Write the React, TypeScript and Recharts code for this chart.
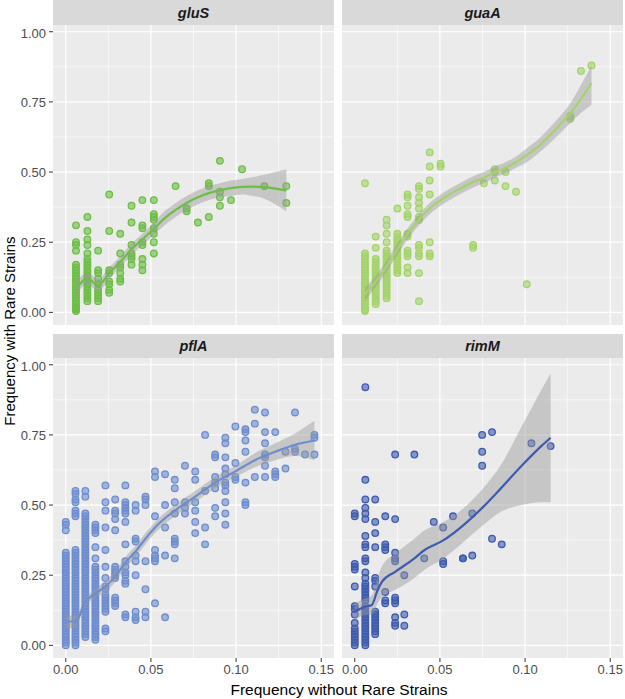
import React from "react";
import { ComposedChart, Scatter, Line, Area, XAxis, YAxis, CartesianGrid } from "recharts";

const xTicks = [0, 0.05, 0.1, 0.15];
const yTicks = [0, 0.25, 0.5, 0.75, 1];
const xMinor = [0.025, 0.075, 0.125];
const yMinor = [0.125, 0.375, 0.625, 0.875];

// gluS
const glusX = [0.006, 0.0127, 0.019, 0.0255, 0.032, 0.0386, 0.045, 0.0517, 0.0645, 0.071, 0.0776, 0.084, 0.0905, 0.097, 0.1035, 0.1166, 0.1295];
const glusY = [
  [0.31, 0.25, 0.24, 0.22, 0.17, 0.16, 0.15, 0.14, 0.13, 0.12, 0.11, 0.1, 0.09, 0.08, 0.07, 0.06, 0.05, 0.04, 0.03, 0.02, 0.015, 0.01, 0.005],
  [0.34, 0.29, 0.26, 0.24, 0.21, 0.19, 0.18, 0.17, 0.16, 0.15, 0.14, 0.13, 0.12, 0.11, 0.1, 0.09, 0.08, 0.07, 0.06, 0.05, 0.04],
  [0.22, 0.15, 0.14, 0.12, 0.1, 0.08, 0.07, 0.06, 0.05, 0.04],
  [0.42, 0.29, 0.15, 0.14, 0.11, 0.1, 0.08, 0.07],
  [0.28, 0.21, 0.17, 0.16, 0.14, 0.12, 0.11],
  [0.38, 0.32, 0.24, 0.21, 0.2, 0.19, 0.17],
  [0.4, 0.31, 0.3, 0.25, 0.24, 0.19, 0.17, 0.15],
  [0.4, 0.35, 0.34, 0.33, 0.3, 0.28, 0.25, 0.21],
  [0.45],
  [0.37, 0.36],
  [0.32],
  [0.46, 0.45, 0.34],
  [0.54, 0.43, 0.41, 0.38],
  [0.4],
  [0.51],
  [0.45],
  [0.45, 0.39],
];
const glusFitX = [0.006, 0.0127, 0.019, 0.0255, 0.032, 0.0386, 0.045, 0.0517, 0.058, 0.0645, 0.071, 0.0776, 0.084, 0.0905, 0.097, 0.1035, 0.11, 0.1166, 0.123, 0.1295];
const glusFit = [0.083, 0.12, 0.097, 0.14, 0.18, 0.225, 0.26, 0.298, 0.335, 0.365, 0.39, 0.41, 0.425, 0.435, 0.443, 0.447, 0.448, 0.446, 0.441, 0.434];
const glusLo = [0.06, 0.1, 0.075, 0.12, 0.16, 0.205, 0.24, 0.275, 0.31, 0.34, 0.365, 0.385, 0.4, 0.41, 0.415, 0.42, 0.415, 0.405, 0.385, 0.36];
const glusHi = [0.11, 0.14, 0.12, 0.16, 0.2, 0.245, 0.28, 0.32, 0.36, 0.39, 0.415, 0.435, 0.45, 0.46, 0.47, 0.475, 0.482, 0.49, 0.5, 0.51];

// guaA
const guaaX = [0.006, 0.0123, 0.0187, 0.025, 0.031, 0.0377, 0.044, 0.0504, 0.0695, 0.0758, 0.0822, 0.0885, 0.0947, 0.101, 0.1266, 0.1328, 0.139];
const guaaY = [
  [0.46, 0.21, 0.2, 0.19, 0.18, 0.17, 0.16, 0.15, 0.14, 0.13, 0.12, 0.11, 0.1, 0.09, 0.08, 0.07, 0.06, 0.05, 0.04, 0.03, 0.02, 0.01, 0.005],
  [0.27, 0.23, 0.19, 0.18, 0.17, 0.16, 0.15, 0.14, 0.13, 0.12, 0.11, 0.1, 0.09, 0.08, 0.07, 0.06, 0.05, 0.04, 0.03],
  [0.33, 0.31, 0.28, 0.25, 0.22, 0.21, 0.2, 0.19, 0.18, 0.17, 0.16, 0.15, 0.14, 0.13, 0.12, 0.11, 0.1, 0.09, 0.08, 0.07, 0.06, 0.05],
  [0.37, 0.28, 0.27, 0.26, 0.25, 0.24, 0.23, 0.22, 0.21, 0.2, 0.19, 0.18, 0.17, 0.16, 0.15, 0.14],
  [0.42, 0.41, 0.38, 0.35, 0.34, 0.28, 0.27, 0.22, 0.21, 0.2, 0.16, 0.14],
  [0.45, 0.44, 0.41, 0.39, 0.37, 0.34, 0.33, 0.24, 0.23, 0.21, 0.2, 0.14, 0.04],
  [0.57, 0.52, 0.47, 0.42, 0.25, 0.21, 0.2],
  [0.53, 0.52],
  [0.24, 0.23],
  [0.46],
  [0.51, 0.5, 0.47],
  [0.5, 0.45],
  [0.43],
  [0.1],
  [0.7, 0.69],
  [0.86],
  [0.88],
];
const guaaFitX = [0.006, 0.0123, 0.0187, 0.025, 0.031, 0.0377, 0.044, 0.0504, 0.057, 0.063, 0.0695, 0.0758, 0.0822, 0.0885, 0.0947, 0.101, 0.1075, 0.114, 0.12, 0.1266, 0.1328, 0.139];
const guaaFit = [0.065, 0.11, 0.165, 0.225, 0.28, 0.33, 0.37, 0.4, 0.425, 0.445, 0.465, 0.48, 0.5, 0.515, 0.535, 0.56, 0.59, 0.627, 0.665, 0.71, 0.76, 0.817];
const guaaLo = [0.04, 0.09, 0.145, 0.205, 0.26, 0.31, 0.35, 0.38, 0.405, 0.425, 0.445, 0.46, 0.48, 0.495, 0.515, 0.535, 0.565, 0.6, 0.635, 0.675, 0.71, 0.74];
const guaaHi = [0.09, 0.13, 0.185, 0.245, 0.3, 0.35, 0.39, 0.42, 0.445, 0.465, 0.485, 0.5, 0.52, 0.535, 0.555, 0.585, 0.615, 0.655, 0.695, 0.745, 0.81, 0.88];

// pflA
const pflaX = [0, 0.0057, 0.0115, 0.0174, 0.0233, 0.029, 0.035, 0.041, 0.0468, 0.0524, 0.0583, 0.064, 0.07, 0.076, 0.0818, 0.0877, 0.0937, 0.0996, 0.1055, 0.111, 0.117, 0.123, 0.129, 0.1346, 0.1405, 0.146];
const pflaY = [
  [0.44, 0.43, 0.41, 0.33, 0.32, 0.31, 0.3, 0.29, 0.28, 0.27, 0.26, 0.25, 0.24, 0.23, 0.22, 0.21, 0.2, 0.19, 0.18, 0.17, 0.16, 0.15, 0.14, 0.13, 0.12, 0.11, 0.1, 0.09, 0.08, 0.07, 0.06, 0.05, 0.04, 0.03, 0.02, 0.01, 0.0],
  [0.55, 0.54, 0.52, 0.51, 0.48, 0.47, 0.46, 0.34, 0.33, 0.32, 0.31, 0.3, 0.29, 0.28, 0.27, 0.26, 0.25, 0.24, 0.23, 0.22, 0.21, 0.2, 0.19, 0.18, 0.17, 0.16, 0.15, 0.14, 0.13, 0.12, 0.11, 0.1, 0.09, 0.08, 0.07, 0.06, 0.05, 0.04, 0.03, 0.02, 0.01, 0.0],
  [0.55, 0.53, 0.47, 0.46, 0.45, 0.44, 0.43, 0.42, 0.41, 0.4, 0.39, 0.38, 0.37, 0.36, 0.35, 0.34, 0.33, 0.32, 0.31, 0.3, 0.29, 0.28, 0.27, 0.26, 0.25, 0.24, 0.23, 0.22, 0.21, 0.2, 0.19, 0.18, 0.17, 0.16, 0.15, 0.14, 0.13, 0.12, 0.11, 0.1, 0.09, 0.08, 0.07, 0.06, 0.05, 0.04, 0.03],
  [0.43, 0.42, 0.41, 0.4, 0.35, 0.31, 0.28, 0.27, 0.26, 0.25, 0.24, 0.23, 0.22, 0.21, 0.2, 0.19, 0.18, 0.17, 0.16, 0.15, 0.14, 0.13, 0.12, 0.11, 0.1, 0.09, 0.08, 0.07, 0.06, 0.05, 0.04, 0.03, 0.02],
  [0.57, 0.51, 0.48, 0.42, 0.34, 0.28, 0.24, 0.21, 0.2, 0.18, 0.17, 0.16, 0.15, 0.14, 0.13, 0.12, 0.06, 0.05],
  [0.52, 0.48, 0.47, 0.45, 0.41, 0.28, 0.27, 0.26, 0.25, 0.24, 0.17, 0.16, 0.15, 0.14],
  [0.57, 0.51, 0.5, 0.49, 0.48, 0.47, 0.44, 0.36, 0.3, 0.28, 0.26, 0.25, 0.23, 0.22, 0.11, 0.1],
  [0.5, 0.48, 0.38, 0.37, 0.32, 0.3, 0.25, 0.12, 0.1, 0.09],
  [0.53, 0.52, 0.5, 0.3, 0.2, 0.12, 0.1],
  [0.62, 0.6, 0.46, 0.34, 0.32, 0.31, 0.3, 0.15],
  [0.61, 0.5, 0.42, 0.32, 0.1],
  [0.59, 0.56, 0.51, 0.47, 0.38, 0.37, 0.36, 0.31],
  [0.64, 0.51, 0.49, 0.47],
  [0.62, 0.59, 0.51, 0.48, 0.44, 0.4],
  [0.75, 0.55, 0.42, 0.36],
  [0.68, 0.67, 0.6, 0.58, 0.56, 0.49, 0.46],
  [0.74, 0.72, 0.67, 0.63, 0.61, 0.58, 0.57, 0.55, 0.51, 0.47, 0.43],
  [0.78, 0.65, 0.6, 0.59],
  [0.77, 0.76, 0.73, 0.69, 0.58, 0.51, 0.5],
  [0.84, 0.79, 0.6],
  [0.83, 0.76, 0.72, 0.68, 0.67, 0.64, 0.6],
  [0.76, 0.62, 0.61, 0.6],
  [0.69, 0.63],
  [0.83, 0.7, 0.69],
  [0.68],
  [0.75, 0.74, 0.68],
];
const pflaFitX = [0, 0.0057, 0.0115, 0.0174, 0.0233, 0.029, 0.035, 0.041, 0.0468, 0.0524, 0.064, 0.076, 0.0877, 0.0996, 0.111, 0.123, 0.1346, 0.146];
const pflaFit = [0.085, 0.085, 0.155, 0.185, 0.21, 0.245, 0.295, 0.335, 0.38, 0.42, 0.48, 0.53, 0.58, 0.62, 0.66, 0.69, 0.715, 0.73];
const pflaLo = [0.06, 0.065, 0.14, 0.17, 0.19, 0.225, 0.275, 0.315, 0.36, 0.4, 0.46, 0.51, 0.56, 0.6, 0.635, 0.66, 0.675, 0.66];
const pflaHi = [0.11, 0.105, 0.17, 0.2, 0.23, 0.265, 0.315, 0.355, 0.4, 0.44, 0.5, 0.55, 0.6, 0.64, 0.685, 0.72, 0.755, 0.8];

// rimM
const rimmX = [0, 0.0062, 0.012, 0.0179, 0.0237, 0.0291, 0.035, 0.0408, 0.0464, 0.0519, 0.0577, 0.0635, 0.069, 0.0748, 0.0806, 0.0863, 0.1037, 0.115];
const rimmY = [
  [0.47, 0.46, 0.29, 0.28, 0.27, 0.21, 0.14, 0.13, 0.11, 0.08, 0.06, 0.05, 0.04, 0.03, 0.02, 0.01, 0.0],
  [0.92, 0.59, 0.52, 0.49, 0.47, 0.45, 0.39, 0.36, 0.35, 0.31, 0.3, 0.26, 0.24, 0.22, 0.21, 0.2, 0.19, 0.18, 0.17, 0.16, 0.14, 0.13, 0.12, 0.11, 0.1, 0.09, 0.08, 0.07, 0.06, 0.05, 0.04, 0.03, 0.02, 0.01, 0.0],
  [0.52, 0.44, 0.4, 0.35, 0.24, 0.23, 0.21, 0.12, 0.11, 0.1, 0.09, 0.08, 0.07, 0.06, 0.05, 0.04],
  [0.46, 0.36, 0.35, 0.34, 0.19, 0.16, 0.15],
  [0.68, 0.45, 0.33, 0.31, 0.3, 0.17, 0.16, 0.15, 0.1, 0.08, 0.07],
  [0.25, 0.11, 0.07],
  [0.68],
  [0.31],
  [0.44],
  [0.42, 0.3, 0.29],
  [0.46],
  [0.31, 0.31],
  [0.47, 0.32],
  [0.75, 0.69, 0.64],
  [0.76, 0.38],
  [0.36],
  [0.72],
  [0.71],
];
const rimmFitX = [0, 0.0062, 0.01, 0.013, 0.016, 0.0237, 0.035, 0.0408, 0.0519, 0.0635, 0.0748, 0.0863, 0.098, 0.1095, 0.115];
const rimmFit = [0.12, 0.138, 0.144, 0.19, 0.227, 0.262, 0.31, 0.339, 0.374, 0.427, 0.49, 0.563, 0.64, 0.71, 0.74];
const rimmLo = [0.09, 0.108, 0.109, 0.145, 0.172, 0.197, 0.24, 0.269, 0.309, 0.367, 0.425, 0.478, 0.5, 0.51, 0.51];
const rimmHi = [0.15, 0.168, 0.179, 0.235, 0.282, 0.327, 0.38, 0.409, 0.439, 0.487, 0.555, 0.648, 0.78, 0.91, 0.97];

const FONT = '"Liberation Sans", Arial, Helvetica, sans-serif';
const PLOT_W = 281;
const PLOT_H = 300;
const Y_AXIS_W = 53;
const X_AXIS_H = 28;

const tickStyle = { fill: "#4D4D4D", fontSize: 13, fontFamily: FONT };

type PanelProps = {
  title: string;
  plotLeft: number;
  stripTop: number;
  plotTop: number;
  xs: number[];
  ys: number[][];
  fitX: number[];
  fit: number[];
  lo: number[];
  hi: number[];
  color: string;
  showX: boolean;
  showY: boolean;
};

function Panel(p: PanelProps) {
  const pts = p.xs.flatMap((x, i) => p.ys[i].map((y) => ({ x, y })));
  const fitData = p.fitX.map((x, i) => ({ x, y: p.fit[i] }));
  const bandData = p.fitX.map((x, i) => ({ x, band: [p.lo[i], p.hi[i]] }));
  const w = PLOT_W + (p.showY ? Y_AXIS_W : 0);
  const h = PLOT_H + (p.showX ? X_AXIS_H : 0);
  const dot = (props: any) => (
    <circle cx={props.cx} cy={props.cy} r={3.3} fill={p.color} fillOpacity={0.6} stroke={p.color} strokeWidth={1.3} />
  );
  return (
    <>
      <div
        style={{
          position: "absolute",
          left: p.plotLeft,
          top: p.stripTop,
          width: PLOT_W,
          height: p.plotTop - p.stripTop,
          background: "#D9D9D9",
          display: "flex",
          alignItems: "center",
          justifyContent: "center",
          fontFamily: FONT,
          fontWeight: "bold",
          fontStyle: "italic",
          fontSize: 14.5,
          color: "#1A1A1A",
        }}
      >
        {p.title}
      </div>
      <div style={{ position: "absolute", left: p.plotLeft - (p.showY ? Y_AXIS_W : 0), top: p.plotTop }}>
        <ComposedChart width={w} height={h} margin={{ top: 0, right: 0, bottom: 0, left: 0 }}>
          <CartesianGrid fill="#EBEBEB" stroke="#FFFFFF" strokeWidth={0.6} horizontalValues={yMinor} verticalValues={xMinor} />
          <CartesianGrid stroke="#FFFFFF" strokeWidth={1.2} horizontalValues={yTicks} verticalValues={xTicks} />
          <XAxis
            dataKey="x"
            type="number"
            domain={[-0.0075, 0.1575]}
            allowDataOverflow
            ticks={xTicks}
            tickFormatter={(v: number) => v.toFixed(2)}
            hide={!p.showX}
            height={X_AXIS_H}
            axisLine={false}
            tickLine={{ stroke: "#333333" }}
            tickSize={4}
            tickMargin={3}
            tick={tickStyle}
          />
          <YAxis
            dataKey="y"
            type="number"
            domain={[-0.045, 1.024]}
            allowDataOverflow
            ticks={yTicks}
            tickFormatter={(v: number) => v.toFixed(2)}
            hide={!p.showY}
            width={Y_AXIS_W}
            axisLine={false}
            tickLine={{ stroke: "#333333" }}
            tickSize={4}
            tickMargin={3}
            tick={tickStyle}
          />
          <Scatter data={pts} shape={dot} isAnimationActive={false} />
          <Area
            data={bandData}
            dataKey="band"
            type="monotone"
            stroke="none"
            fill="#999999"
            fillOpacity={0.45}
            isAnimationActive={false}
            zIndex={700}
          />
          <Line
            data={fitData}
            dataKey="y"
            type="monotone"
            stroke={p.color}
            strokeWidth={2.2}
            dot={false}
            activeDot={false}
            isAnimationActive={false}
            zIndex={800}
          />
        </ComposedChart>
      </div>
    </>
  );
}

export default function App() {
  return (
    <div style={{ position: "absolute", left: 0, top: 0, width: 625, height: 699, background: "#FFFFFF", fontFamily: FONT }}>
      <Panel title="gluS" plotLeft={53} stripTop={0} plotTop={25} xs={glusX} ys={glusY} fitX={glusFitX} fit={glusFit} lo={glusLo} hi={glusHi} color="#6DBE45" showX={false} showY={true} />
      <Panel title="guaA" plotLeft={342} stripTop={0} plotTop={25} xs={guaaX} ys={guaaY} fitX={guaaFitX} fit={guaaFit} lo={guaaLo} hi={guaaHi} color="#A4D36A" showX={false} showY={false} />
      <Panel title="pflA" plotLeft={53} stripTop={334} plotTop={358} xs={pflaX} ys={pflaY} fitX={pflaFitX} fit={pflaFit} lo={pflaLo} hi={pflaHi} color="#6E8DCF" showX={true} showY={true} />
      <Panel title="rimM" plotLeft={342} stripTop={334} plotTop={358} xs={rimmX} ys={rimmY} fitX={rimmFitX} fit={rimmFit} lo={rimmLo} hi={rimmHi} color="#3F5BB0" showX={true} showY={false} />
      <div
        style={{
          position: "absolute",
          left: 9,
          top: 331,
          transform: "translate(-50%, -50%) rotate(-90deg)",
          whiteSpace: "nowrap",
          fontSize: 15,
          color: "#000000",
        }}
      >
        Frequency with Rare Strains
      </div>
      <div
        style={{
          position: "absolute",
          left: 339,
          top: 690,
          transform: "translate(-50%, -50%)",
          whiteSpace: "nowrap",
          fontSize: 15.5,
          color: "#000000",
        }}
      >
        Frequency without Rare Strains
      </div>
    </div>
  );
}
